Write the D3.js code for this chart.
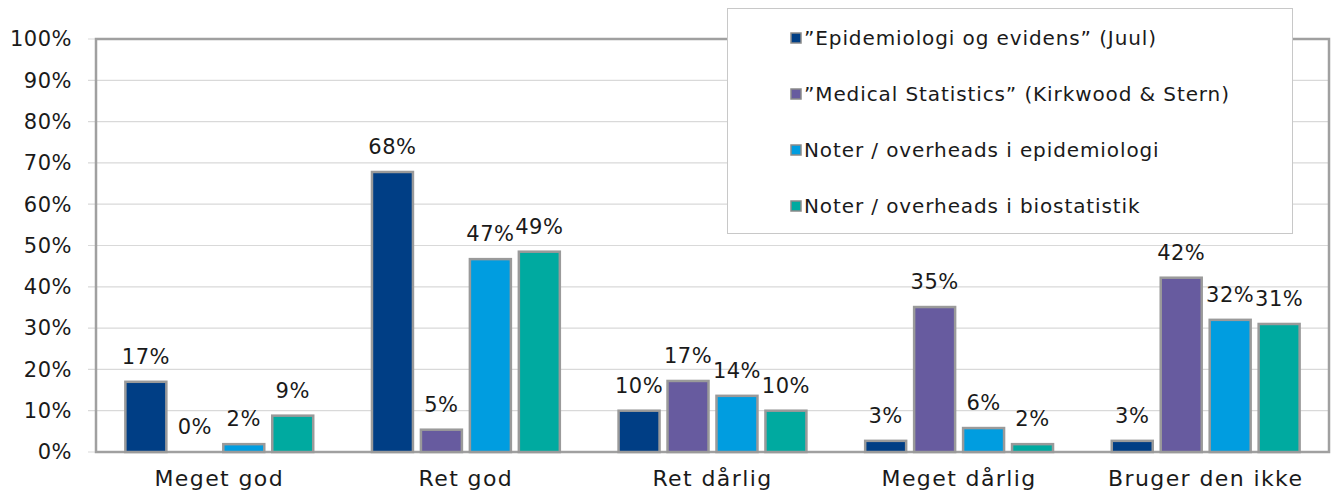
<!DOCTYPE html>
<html>
<head>
<meta charset="utf-8">
<script src="https://cdn.jsdelivr.net/npm/d3@7"></script>
<style>
  body { margin: 0; background: #fff; }
  svg text { font-family: "DejaVu Sans", sans-serif; fill: #1a1a1a; }
</style>
</head>
<body>
<svg id="chart" width="1337" height="499"></svg>
<script>
// data
var categories = ["Meget god", "Ret god", "Ret dårlig", "Meget dårlig", "Bruger den ikke"];
var series_names = ["\u201dEpidemiologi og evidens\u201d (Juul)",
                    "\u201dMedical Statistics\u201d (Kirkwood & Stern)",
                    "Noter / overheads i epidemiologi",
                    "Noter / overheads i biostatistik"];
var juul      = [0.170, 0.678, 0.100, 0.027, 0.027];
var kirkwood  = [0.000, 0.054, 0.172, 0.351, 0.422];
var epi_notes = [0.019, 0.467, 0.136, 0.058, 0.320];
var bio_notes = [0.088, 0.485, 0.100, 0.019, 0.310];
var y_ticks = [0, 0.1, 0.2, 0.3, 0.4, 0.5, 0.6, 0.7, 0.8, 0.9, 1.0];

var colours = ["#003e85", "#675b9f", "#009de0", "#00aaa0"];
var all_series = [juul, kirkwood, epi_notes, bio_notes];

var svg = d3.select("#chart");
var plot_left = 96, plot_right = 1329, plot_top = 39, plot_bottom = 452;

var x = d3.scaleBand().domain(categories).range([plot_left, plot_right]).paddingInner(0).paddingOuter(0);
var xs = d3.scaleBand().domain(d3.range(4)).range([0, x.bandwidth()]).paddingInner(0.163).paddingOuter(0.6);
var y = d3.scaleLinear().domain([0, 1]).range([plot_bottom, plot_top]);

// gridlines
svg.append("g").selectAll("line").data(y_ticks).enter().append("line")
   .attr("x1", plot_left - 8).attr("x2", plot_right)
   .attr("y1", function (d) { return y(d); })
   .attr("y2", function (d) { return y(d); })
   .attr("stroke", "#d9d9d9").attr("stroke-width", 1.2);

// y tick labels
svg.append("g").selectAll("text").data(y_ticks).enter().append("text")
   .attr("x", 72).attr("y", function (d) { return y(d); })
   .attr("dy", "0.35em").attr("text-anchor", "end")
   .style("font-size", "21px").style("letter-spacing", "0.5px")
   .text(d3.format(".0%"));

// frame
svg.append("rect").attr("x", plot_left).attr("y", plot_top)
   .attr("width", plot_right - plot_left).attr("height", plot_bottom - plot_top)
   .attr("fill", "none").attr("stroke", "#a0a0a0").attr("stroke-width", 2.5);

// bars
var rows = [];
all_series.forEach(function (vals, s) {
  vals.forEach(function (v, i) { rows.push({ s: s, cat: categories[i], v: v }); });
});

svg.append("g").selectAll("rect").data(rows).enter().append("rect")
   .attr("x", function (d) { return x(d.cat) + xs(d.s); })
   .attr("y", function (d) { return y(d.v); })
   .attr("width", xs.bandwidth())
   .attr("height", function (d) { return plot_bottom - y(d.v); })
   .attr("fill", function (d) { return colours[d.s]; })
   .attr("stroke", "#9a9a9a").attr("stroke-width", 2.5);

// value labels
svg.append("g").selectAll("text").data(rows).enter().append("text")
   .attr("x", function (d) { return x(d.cat) + xs(d.s) + xs.bandwidth() / 2; })
   .attr("y", function (d) { return y(d.v) - 18; })
   .attr("text-anchor", "middle")
   .style("font-size", "21px").style("letter-spacing", "0.5px")
   .text(function (d) { return Math.round(d.v * 100) + "%"; });

// category labels
svg.append("g").selectAll("text").data(categories).enter().append("text")
   .attr("x", function (d) { return x(d) + x.bandwidth() / 2; })
   .attr("y", 486).attr("text-anchor", "middle")
   .style("font-size", "22px").style("letter-spacing", "1.4px")
   .text(function (d) { return d; });

// legend
var lg = svg.append("g");
lg.append("rect").attr("x", 727.5).attr("y", 8.5).attr("width", 565).attr("height", 225)
  .attr("fill", "#fff").attr("stroke", "#c8c8c8").attr("stroke-width", 1);
var items = lg.selectAll("g.item").data(series_names).enter().append("g")
  .attr("transform", function (d, i) { return "translate(0," + (38 + i * 56) + ")"; });
items.append("rect").attr("x", 791).attr("y", -5).attr("width", 10).attr("height", 10)
  .attr("fill", function (d, i) { return colours[i]; })
  .attr("stroke", "#8a8a8a").attr("stroke-width", 1.5);
items.append("text").attr("x", 804).attr("dy", "0.35em")
  .style("font-size", "20px").style("letter-spacing", "0.9px")
  .text(function (d) { return d; });
</script>
</body>
</html>
